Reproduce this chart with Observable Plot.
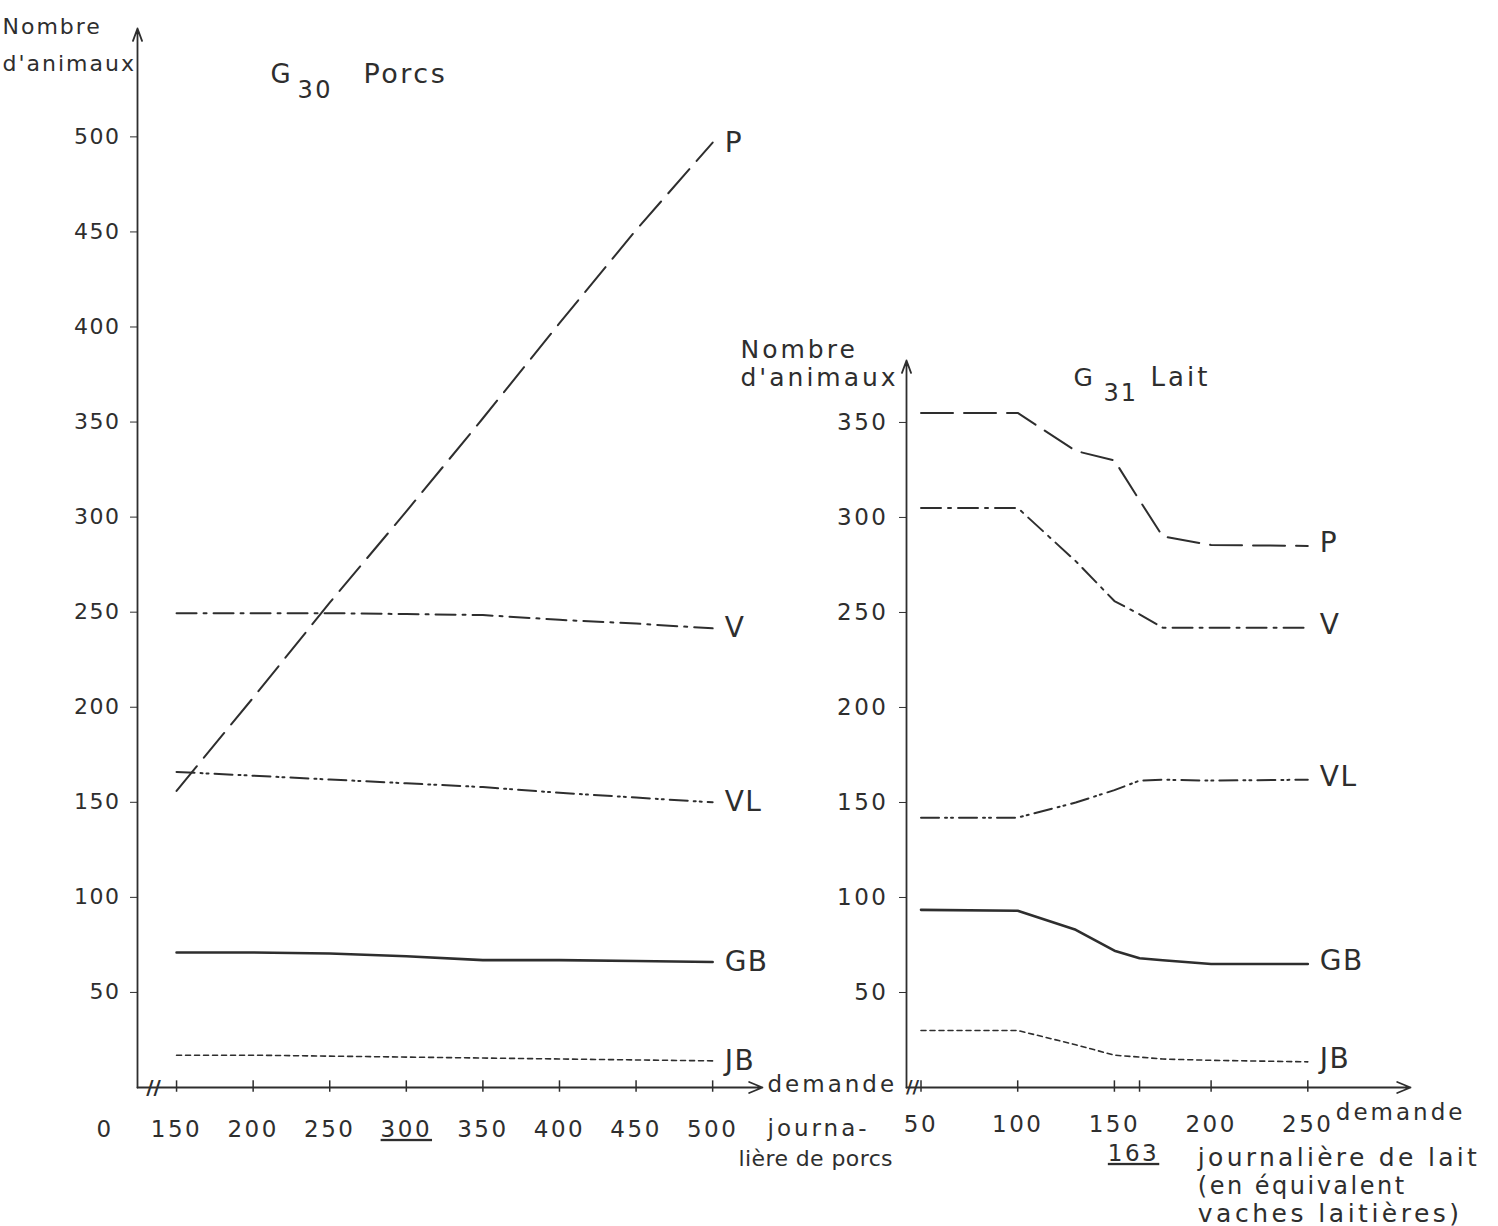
<!DOCTYPE html>
<html><head><meta charset="utf-8">
<script src="https://cdn.jsdelivr.net/npm/d3@7"></script>
<script src="https://cdn.jsdelivr.net/npm/@observablehq/plot@0.6"></script>
<style>
html,body{margin:0;padding:0;background:#fff;}
#wrap{position:relative;width:1498px;height:1226px;overflow:hidden;background:#fff;}
#wrap svg{position:absolute;left:0;top:0;}
</style></head><body><div id="wrap"></div>
<script>
// ---------- data ----------
const seriesNames = ["P", "V", "VL", "GB", "JB"];

// G30 Porcs : demande journalière de porcs
const porcsDemand = [150, 200, 250, 300, 350, 400, 450, 500];
const porcsP  = [156, 205, 255, 303, 352, 402, 451, 497];
const porcsV  = [249.5, 249.5, 249.5, 249, 248.5, 246, 244, 241.5];
const porcsVL = [166, 164, 162, 160, 158, 155, 152.5, 150];
const porcsGB = [71, 71, 70.5, 69, 67, 67, 66.5, 66];
const porcsJB = [17, 17, 16.5, 16, 15.5, 15, 14.5, 14];

// G31 Lait : demande journalière de lait (en équivalent vaches laitières)
const laitDemand = [50, 100, 130, 150, 163, 175, 200, 250];
const laitP  = [355, 355, 335, 330, 309, 290, 285.5, 285];
const laitV  = [305, 305, 277, 256, 249, 242, 242, 242];
const laitVL = [142, 142, 150, 156.5, 161.5, 162, 161.5, 162];
const laitGB = [93.5, 93, 83, 72, 68, 67, 65, 65];
const laitJB = [30, 30, 22.5, 17, 16, 15, 14.3, 13.5];

// ticks
const porcsYTicks = [50, 100, 150, 200, 250, 300, 350, 400, 450, 500];
const porcsXTicks = [150, 200, 250, 300, 350, 400, 450, 500];
const porcsXUnderlined = [300];
const laitYTicks = [50, 100, 150, 200, 250, 300, 350];
const laitXTicks = [50, 100, 150, 163, 200, 250];
const laitXLabels = [50, 100, 150, 200, 250];
const laitXUnderlined = [163];

// axis geometry (broken axes)
const porcsAxis = {origin: 124.5, xEnd: 534.5, yTop: 557, brk: 135};
const laitAxis  = {origin: 42.5, xEnd: 303.1, yTop: 382.6, brk: 45.6};

// ---------- styles ----------
const INK = "#2e2e2e";
const lineStyle = {
  P:  {dash: "32,11", width: 2},
  V:  {dash: "20,7,3,7", width: 2},
  VL: {dash: "18,6,2,4,2,6", width: 2},
  GB: {dash: null, width: 2.6},
  JB: {dash: "5,4", width: 1.6}
};
const FONT = "'DejaVu Sans', 'Liberation Sans', sans-serif";

// text helper: desc carries letter-spacing / underline flags for post-styling
function T(data, opts, ls, underline) {
  const desc = "ls:" + (ls == null ? "" : ls) + (underline ? ";u" : "");
  return Plot.text(data, {fill: INK, ...opts, ariaDescription: desc});
}
function toSeries(xs, ys) { return xs.map((x, i) => ({x, y: ys[i]})); }
function lineMarks(xs, cols) {
  return seriesNames.map((name, k) => {
    const st = lineStyle[name];
    const opts = {x: "x", y: "y", stroke: INK, strokeWidth: st.width, strokeLinejoin: "round"};
    if (st.dash) opts.strokeDasharray = st.dash;
    return Plot.line(toSeries(xs, cols[k]), opts);
  });
}
function endLabels(xs, cols) {
  return seriesNames.map((name, k) => ({name, x: xs[xs.length - 1], y: cols[k][cols[k].length - 1]}));
}
const TL = {frameAnchor: "top-left", text: d => d, textAnchor: "start", lineAnchor: "bottom"};

// ---------- G30 Porcs ----------
const porcsCols = [porcsP, porcsV, porcsVL, porcsGB, porcsJB];
const A = porcsAxis;
const left = Plot.plot({
  width: 1498, height: 1226,
  marginLeft: 137, marginRight: 733, marginTop: 28, marginBottom: 139,
  x: {domain: [A.origin, A.xEnd], axis: null},
  y: {domain: [0, A.yTop], ticks: porcsYTicks, tickSize: 7, tickPadding: 10, label: null},
  style: {background: "transparent", fontFamily: FONT, fontSize: "22px", color: INK, letterSpacing: "1.5px"},
  marks: [
    Plot.arrow([A], {x1: d => d.origin, y1: 0, x2: d => d.origin, y2: d => d.yTop, stroke: INK, strokeWidth: 1.8, headLength: 11, headAngle: 40}),
    Plot.arrow([A], {x1: d => d.origin, y1: 0, x2: d => d.xEnd - 2, y2: 0, stroke: INK, strokeWidth: 1.8, headLength: 12, headAngle: 45}),
    Plot.ruleX(porcsXTicks, {x: d => d, y1: -2.5, y2: 3.5, stroke: INK, strokeWidth: 1.5}),
    T([A], {x: d => d.brk, y: 0, text: () => "//", fontSize: 20, fontWeight: "bold"}, 0),
    T(porcsXTicks.filter(t => !porcsXUnderlined.includes(t)), {x: d => d, y: 0, text: d => String(d), dy: 42, fontSize: 23}, 2.5),
    T(porcsXUnderlined, {x: d => d, y: 0, text: d => String(d), dy: 42, fontSize: 23}, 2.5, true),
    T([A], {x: d => d.origin, y: 0, text: () => "0", dx: -33, dy: 42, fontSize: 23}),
    ...lineMarks(porcsDemand, porcsCols),
    T(endLabels(porcsDemand, porcsCols), {x: "x", y: "y", text: "name", dx: 12, dy: 0, textAnchor: "start", fontSize: 28}, 1.5),
    // axis titles / annotations
    T([A], {x: d => d.xEnd, y: 0, text: () => "demande", dx: 2, dy: 4, textAnchor: "start", lineAnchor: "bottom", fontSize: 23}, 3),
    T([A], {x: d => d.xEnd, y: 0, text: () => "journa-", dx: 2, dy: 48, textAnchor: "start", lineAnchor: "bottom", fontSize: 23}, 3),
    T([A], {x: d => d.xEnd, y: 0, text: () => "lière de porcs", dx: -27, dy: 78, textAnchor: "start", lineAnchor: "bottom", fontSize: 22}, 0.4),
    T(["Nombre"], {...TL, dx: -135, dy: 5, fontSize: 22}, 2),
    T(["d'animaux"], {...TL, dx: -135, dy: 42, fontSize: 22}, 2),
    T(["G"], {...TL, dx: 133, dy: 54, fontSize: 26}),
    T(["30"], {...TL, dx: 160, dy: 69, fontSize: 24}, 2.5),
    T(["Porcs"], {...TL, dx: 226, dy: 54, fontSize: 27}, 2.5)
  ]
});

// ---------- G31 Lait ----------
const laitCols = [laitP, laitV, laitVL, laitGB, laitJB];
const B = laitAxis;
const right = Plot.plot({
  width: 1498, height: 1226,
  marginLeft: 906, marginRight: 88, marginTop: 360, marginBottom: 139,
  x: {domain: [B.origin, B.xEnd], axis: null},
  y: {domain: [0, B.yTop], ticks: laitYTicks, tickSize: 7, tickPadding: 11, label: null},
  style: {background: "transparent", fontFamily: FONT, fontSize: "23px", color: INK, letterSpacing: "2.5px"},
  marks: [
    Plot.arrow([B], {x1: d => d.origin, y1: 0, x2: d => d.origin, y2: d => d.yTop, stroke: INK, strokeWidth: 1.8, headLength: 11, headAngle: 40}),
    Plot.arrow([B], {x1: d => d.origin, y1: 0, x2: d => d.xEnd, y2: 0, stroke: INK, strokeWidth: 1.8, headLength: 12, headAngle: 45}),
    Plot.ruleX(laitXTicks, {x: d => d, y1: -2.5, y2: 3.5, stroke: INK, strokeWidth: 1.5}),
    T([B], {x: d => d.brk, y: 0, text: () => "//", fontSize: 18, fontWeight: "bold"}, 0),
    T(laitXLabels, {x: d => d, y: 0, text: d => String(d), dy: 37, fontSize: 23}, 2.5),
    T(laitXUnderlined, {x: d => d, y: 0, text: d => String(d), dx: -6, dy: 66, fontSize: 23}, 2.5, true),
    ...lineMarks(laitDemand, laitCols),
    T(endLabels(laitDemand, laitCols), {x: "x", y: "y", text: "name", dx: 12, dy: -3, textAnchor: "start", fontSize: 28}, 1.5),
    T([250], {x: d => d, y: 0, text: () => "demande", dx: 28, dy: 32, textAnchor: "start", lineAnchor: "bottom", fontSize: 23}, 3),
    T([250], {x: d => d, y: 0, text: () => "journalière de lait", dx: -110, dy: 78, textAnchor: "start", lineAnchor: "bottom", fontSize: 25}, 3.3),
    T([250], {x: d => d, y: 0, text: () => "(en équivalent", dx: -110, dy: 106, textAnchor: "start", lineAnchor: "bottom", fontSize: 24}, 2.5),
    T([250], {x: d => d, y: 0, text: () => "vaches laitières)", dx: -110, dy: 134, textAnchor: "start", lineAnchor: "bottom", fontSize: 25}, 3.5),
    T(["Nombre"], {...TL, dx: -166, dy: -3, fontSize: 25}, 3),
    T(["d'animaux"], {...TL, dx: -166, dy: 25, fontSize: 25}, 3),
    T(["G"], {...TL, dx: 167, dy: 25, fontSize: 25}),
    T(["31"], {...TL, dx: 197, dy: 40, fontSize: 24}, 2),
    T(["Lait"], {...TL, dx: 244, dy: 25, fontSize: 26}, 3)
  ]
});

const wrap = document.getElementById("wrap");
wrap.appendChild(left);
wrap.appendChild(right);

// post-style texts: letter spacing and underlines
d3.selectAll("#wrap g[aria-description]").each(function () {
  const desc = this.getAttribute("aria-description") || "";
  const parts = desc.split(";");
  const g = d3.select(this);
  const ls = parts[0].startsWith("ls:") ? parts[0].slice(3) : "";
  if (ls !== "") g.style("letter-spacing", ls + "px");
  if (parts.includes("u")) {
    g.selectAll("text")
      .style("text-decoration", "underline")
      .style("text-decoration-thickness", "2.5px")
      .style("text-underline-offset", "6px");
  }
});
</script>
</body></html>
